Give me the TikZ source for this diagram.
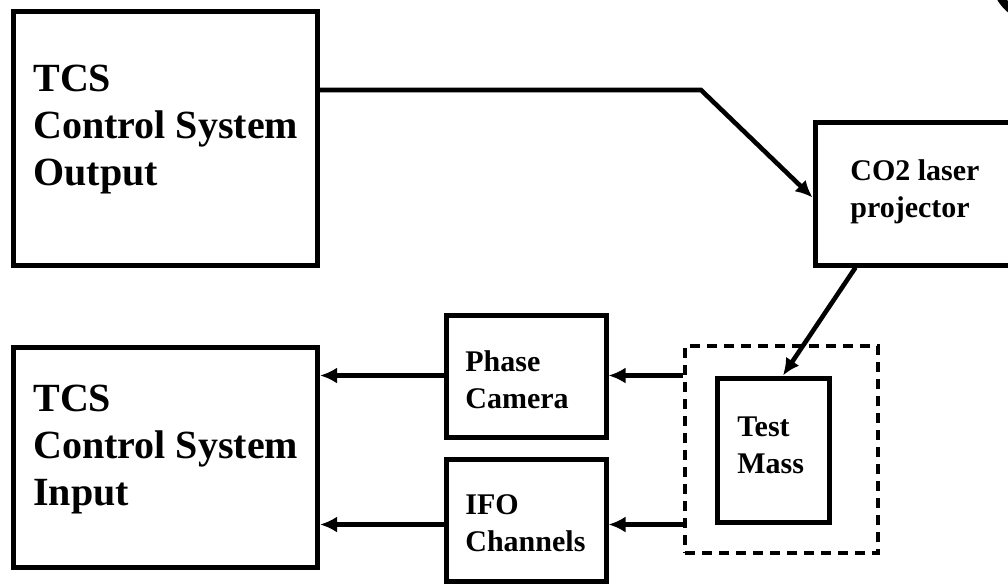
\documentclass[tikz,border=0pt]{standalone}
\usepackage{fontspec}
\setmainfont{Liberation Serif}
\usetikzlibrary{arrows.meta,calc}

\tikzset{
    blk/.style={draw, line width=2.5pt, inner sep=0pt},
    grpbox/.style={draw, line width=1.7pt, dash pattern=on 5pt off 3.5pt, inner sep=0pt},
    bigtxt/.style={anchor=base west, align=left, inner sep=0pt,
        font=\fontsize{20}{23.5}\selectfont\bfseries},
    smalltxt/.style={anchor=base west, align=left, inner sep=0pt,
        font=\fontsize{15}{18.5}\selectfont\bfseries},
    conn/.style={line width=2.3pt, -{Latex[length=8.5pt,width=8pt]}},
}

\begin{document}
\begin{tikzpicture}[x=0.5pt,y=-0.5pt]
    % 画布大小
    \useasboundingbox (0,0) rectangle (1008,585);
    \clip (0,0) rectangle (1008,585);

    % 控制系统方框
    \node[blk, minimum width=152pt, minimum height=127pt] (out) at (165.5,138) {};
    \node[bigtxt] (outtxt) at (33,185) {TCS\\Control System\\Output};
    \node[blk, minimum width=152pt, minimum height=110pt] (in) at (165.5,457) {};
    \node[bigtxt] (intxt) at (33,505) {TCS\\Control System\\Input};

    % 激光器
    \node[blk, minimum width=105pt, minimum height=71.5pt] (co2) at (920,193.5) {};
    \node[smalltxt] (co2txt) at (850,217) {CO2 laser\\projector};

    % 探测
    \node[blk, minimum width=80pt, minimum height=61pt] (phase) at (526,376) {};
    \node[smalltxt] (phasetxt) at (465,408) {Phase\\Camera};
    \node[blk, minimum width=80pt, minimum height=61pt] (ifo) at (526,520) {};
    \node[smalltxt] (ifotxt) at (465,551) {IFO\\Channels};

    % 测试质量
    \node[grpbox, minimum width=96.5pt, minimum height=103.5pt] (grp) at (781.5,449.5) {};
    \node[blk, minimum width=56pt, minimum height=72pt] (mass) at (773,450) {};
    \node[smalltxt] (masstxt) at (737,473) {Test\\Mass};

    % 右上角的弧
    \draw[line width=4pt] (1040,-26) circle[radius=23pt];

    % 连线
    \coordinate (kink) at (701,90);
    \draw[conn] (out.east |- kink) -- (kink) -- ([yshift=-2pt]co2.west);
    \draw[conn] ($(co2.south west)!0.2!(co2.south east)$) -- ([xshift=5pt]mass.north);
    \draw[conn] (grp.west |- mass.north) -- (phase.east |- mass.north);
    \draw[conn] (grp.west |- mass.south) -- (ifo.east |- mass.south);
    \draw[conn] (phase.west |- mass.north) -- (in.east |- mass.north);
    \draw[conn] (ifo.west |- mass.south) -- (in.east |- mass.south);
\end{tikzpicture}
\end{document}
